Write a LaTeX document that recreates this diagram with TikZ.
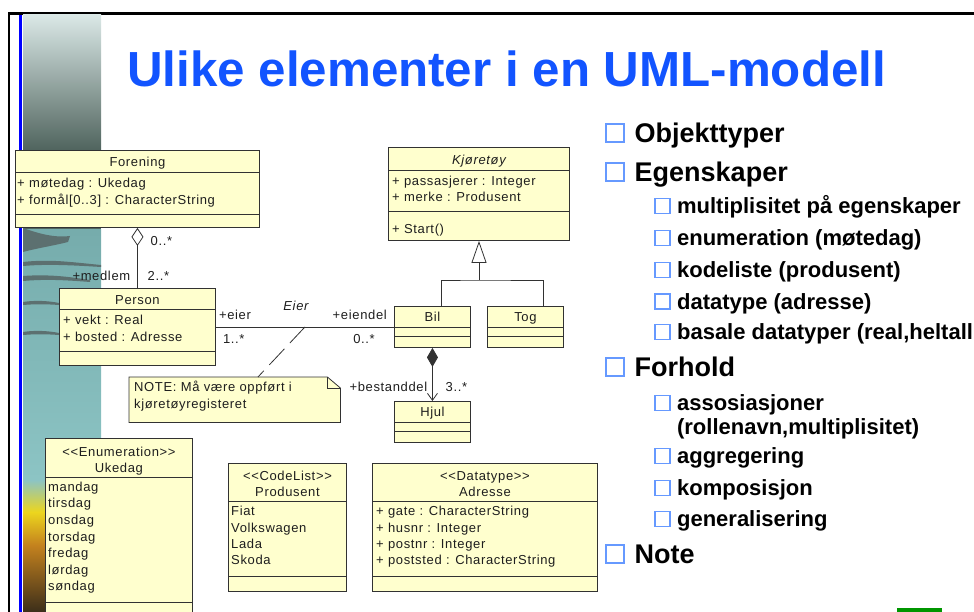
\documentclass[tikz,border=0pt]{standalone}
\usepackage{fontspec}
\setmainfont{Liberation Sans}
\newfontfamily\umlfont[LetterSpace=5]{Liberation Sans}
\usetikzlibrary{positioning,arrows.meta,calc}

\definecolor{umlfill}{RGB}{255,255,206}
\definecolor{umldraw}{RGB}{50,50,50}
\definecolor{umlink}{RGB}{30,30,30}
\definecolor{titleblue}{RGB}{18,84,255}
\definecolor{bulletblue}{RGB}{102,153,255}
\definecolor{slideblue}{RGB}{0,0,255}
\definecolor{slidegreen}{RGB}{0,150,0}
\definecolor{stripA}{RGB}{218,232,230}
\definecolor{stripM}{RGB}{165,190,186}
\definecolor{stripB}{RGB}{80,100,94}
\definecolor{teala}{RGB}{118,172,172}
\definecolor{tealb}{RGB}{140,196,196}
\definecolor{rock}{RGB}{92,112,112}
\definecolor{sand}{RGB}{236,214,30}
\definecolor{amber}{RGB}{196,130,30}
\definecolor{earth}{RGB}{60,46,26}

\tikzset{
  umlbox/.style={draw=umldraw, fill=umlfill, line width=0.9pt, inner sep=0pt, anchor=north west},
  umlrule/.style={draw=umldraw, line width=0.9pt},
  umlline/.style={draw=umldraw, line width=0.8pt},
  umltext/.style={font={\umlfont\fontsize{13}{16}\selectfont}, text=umlink, inner sep=0pt, text height=9.3pt, text depth=0pt},
  umlitalic/.style={umltext, font={\umlfont\fontsize{13}{16}\selectfont\itshape}},
  attr/.style={umltext, anchor=west},
  titletext/.style={font={\fontsize{49.3}{55}\selectfont\bfseries}, text=titleblue, inner sep=0pt, anchor=base west},
  bullet1/.style={draw=bulletblue, line width=2.2pt, minimum size=17.8pt, inner sep=0pt},
  bullet2/.style={draw=bulletblue, line width=1.8pt, minimum size=15pt, inner sep=0pt},
  head/.style={font={\fontsize{27}{30}\selectfont\bfseries}, text=black, inner sep=0pt, text height=19.3pt, text depth=0pt},
  sub/.style={font={\fontsize{22}{24}\selectfont\bfseries}, text=black, inner sep=0pt, text height=15.8pt, text depth=0pt}
}

\begin{document}
\begin{tikzpicture}[x=1pt, y=-1pt]
\useasboundingbox (0,0) rectangle (974,612);
\clip (0,0) rectangle (974,612);

% slide frame and picture strip
\fill[black] (7.5,12.5) rectangle (974,15);
\fill[black] (7.5,12.5) rectangle (10,612);
\fill[slideblue] (19,15) rectangle (22,612);
\shade[top color=stripA, middle color=stripM, bottom color=stripB] (23,15) rectangle (101,150);
\fill[stripB] (23,150) rectangle (101,230);
\shade[top color=teala, bottom color=tealb] (23,230) rectangle (101,480);
\shade[top color=tealb, bottom color=sand] (23,480) rectangle (101,512);
\shade[top color=sand, bottom color=amber] (23,512) rectangle (101,545);
\shade[top color=amber, bottom color=earth] (23,545) rectangle (101,612);
\fill[rock] (23,228) .. controls (40,234) and (55,238) .. (70,236) -- (68,242) .. controls (52,246) and (38,248) .. (23,252) -- cycle;
\fill[rock] (23,262) .. controls (50,259) and (70,262) .. (101,265) -- (101,267) .. controls (70,265) and (45,264) .. (23,266) -- cycle;
\fill[rock] (23,276) .. controls (50,274) and (70,277) .. (90,280) -- (90,282) .. controls (65,280) and (45,279) .. (23,281) -- cycle;
\fill[rock] (23,302) .. controls (35,300) and (50,301) .. (59,303) -- (59,305) .. controls (45,304) and (35,304) .. (23,305) -- cycle;
\fill[rock] (23,332) .. controls (35,330) and (50,331) .. (59,333) -- (59,335) .. controls (45,334) and (35,334) .. (23,335) -- cycle;

% title
\node[titletext] (title) at (127,86.7) {Ulike elementer i en UML-modell};

% classes
\node[umlbox, minimum width=244pt, minimum height=77pt] (forening) at (15,150) {};
\node[umlbox, minimum width=156pt, minimum height=77pt] (person) at (59,288) {};
\node[umlbox, minimum width=181pt, minimum height=93pt] (kjoretoy) at (388,147) {};
\node[umlbox, minimum width=76pt, minimum height=41pt] (bil) at (394,306) {};
\node[umlbox, minimum width=76pt, minimum height=41pt] (tog) at (487,306) {};
\node[umlbox, minimum width=76pt, minimum height=41pt] (hjul) at (394,401) {};
\node[umlbox, minimum width=147pt, minimum height=187pt] (ukedag) at (45,438) {};
\node[umlbox, minimum width=118pt, minimum height=128pt] (produsent) at (228,463) {};
\node[umlbox, minimum width=225pt, minimum height=128pt] (adresse) at (372,463) {};

\foreach \cls/\ya/\yb in {forening/22/64, person/21/63, kjoretoy/23/64, bil/21/30, tog/21/30, hjul/21/30, ukedag/39/164, produsent/38/113, adresse/38/113} {
  \draw[umlrule] ([yshift=-\ya pt]\cls.north west) -- ([yshift=-\ya pt]\cls.north east);
  \draw[umlrule] ([yshift=-\yb pt]\cls.north west) -- ([yshift=-\yb pt]\cls.north east);
}

\node[umltext] (forening-name) at ([yshift=-11.7pt]forening.north) {Forening};
\node[umltext] (person-name) at ([yshift=-11.7pt]person.north) {Person};
\node[umlitalic] (kjoretoy-name) at ([yshift=-12.5pt]kjoretoy.north) {Kjøretøy};
\node[umltext] (bil-name) at ([yshift=-11pt]bil.north) {Bil};
\node[umltext] (tog-name) at ([yshift=-11pt]tog.north) {Tog};
\node[umltext] (hjul-name) at ([yshift=-11pt]hjul.north) {Hjul};
\node[umltext, text height=25.6pt, align=center, anchor=north] (ukedag-name) at ([yshift=-9pt]ukedag.north) {{<}{<}Enumeration{>}{>}\\Ukedag};
\node[umltext, text height=25.6pt, align=center, anchor=north] (produsent-name) at ([yshift=-7.5pt]produsent.north) {{<}{<}CodeList{>}{>}\\Produsent};
\node[umltext, text height=25.6pt, align=center, anchor=north] (adresse-name) at ([yshift=-7.5pt]adresse.north) {{<}{<}Datatype{>}{>}\\Adresse};

\foreach \txt [count=\i from 0] in {{+ møtedag : Ukedag}, {+ formål[0..3] : CharacterString}}
  \node[attr] (forening-attr\i) at ([xshift=2pt, yshift={-(33.3+16.5*\i)*1pt}]forening.north west) {\txt};
\foreach \txt [count=\i from 0] in {{+ vekt : Real}, {+ bosted : Adresse}}
  \node[attr] (person-attr\i) at ([xshift=4pt, yshift={-(32.2+16.5*\i)*1pt}]person.north west) {\txt};
\foreach \txt [count=\i from 0] in {{+ passasjerer : Integer}, {+ merke : Produsent}}
  \node[attr] (kjoretoy-attr\i) at ([xshift=4pt, yshift={-(33.7+16*\i)*1pt}]kjoretoy.north west) {\txt};
\node[attr] (kjoretoy-op) at ([xshift=4pt, yshift=-82.3pt]kjoretoy.north west) {+ Start()};
\foreach \txt [count=\i from 0] in {mandag, tirsdag, onsdag, torsdag, fredag, lørdag, søndag}
  \node[attr] (ukedag-val\i) at ([xshift=3pt, yshift={-(48.7+16.6*\i)*1pt}]ukedag.north west) {\txt};
\foreach \txt [count=\i from 0] in {Fiat, Volkswagen, Lada, Skoda}
  \node[attr] (produsent-val\i) at ([xshift=3pt, yshift={-(48+16.4*\i)*1pt}]produsent.north west) {\txt};
\foreach \txt [count=\i from 0] in {{+ gate : CharacterString}, {+ husnr : Integer}, {+ postnr : Integer}, {+ poststed : CharacterString}}
  \node[attr] (adresse-attr\i) at ([xshift=4pt, yshift={-(48+16.4*\i)*1pt}]adresse.north west) {\txt};

% relations
\draw[umlline, {Diamond[open, length=18pt, width=12pt]}-] (forening.south) -- (person.north);
\node[umltext, below right=8.4pt and 13pt of forening.south] (medlem-min) {0..*};
\node[umltext, above left=7.4pt and 7pt of person.north] (medlem) {+medlem};
\node[umltext, above right=7.4pt and 10pt of person.north] (medlem-mult) {2..*};

\draw[umlline] (person.east) -- (bil.west) coordinate[pos=0.5] (eiermid);
\node[umlitalic] (eier-name) at ([xshift=-9pt, yshift=21.5pt]eiermid) {Eier};
\node[umltext, above right=6.9pt and 3pt of person.east] (eier) {+eier};
\node[umltext, below right=6.9pt and 7pt of person.east] (eier-mult) {1..*};
\node[umltext, above left=6.9pt and 7pt of bil.west] (eiendel) {+eiendel};
\node[umltext, below left=6.9pt and 19pt of bil.west] (eiendel-mult) {0..*};

\coordinate (genjoin) at (479,280);
\draw[umlline] ([xshift=9pt]bil.north) |- (genjoin) -| ([xshift=18pt]tog.north);
\draw[umlline, -{Triangle[open, length=22pt, width=15pt]}] (genjoin) -- (genjoin |- kjoretoy.south);

\draw[umlline, {Diamond[length=19pt, width=11pt]}-{Straight Barb[length=7pt, width=10pt]}] (bil.south) -- (hjul.north);
\node[umltext, above left=9.4pt and 5pt of hjul.north] (bestanddel) {+bestanddel};
\node[umltext, above right=9.4pt and 13pt of hjul.north] (bestanddel-mult) {3..*};

% note
\node[minimum width=211pt, minimum height=45pt, inner sep=0pt, anchor=north west] (note) at (129,377) {};
\draw[umlline, fill=umlfill] (note.north west) -- ([xshift=-13pt]note.north east) -- ([yshift=-11pt]note.north east) -- (note.south east) -- (note.south west) -- cycle;
\draw[umlline] ([xshift=-13pt]note.north east) |- ([yshift=-11pt]note.north east);
\node[attr] (note-line1) at ([xshift=5pt, yshift=-10.3pt]note.north west) {NOTE: Må være oppført i};
\node[attr] (note-line2) at ([xshift=5pt, yshift=-27pt]note.north west) {kjøretøyregisteret};
\draw[umlline, dash pattern=on 22pt off 8pt] (eiermid) -- ($(note.north west)!0.61!(note.north east)$);

% bullet list
\foreach \txt/\y [count=\i] in {Objekttyper/133, Egenskaper/172, Forhold/367, Note/554} {
  \node[bullet1] (head-box\i) at (615,\y) {};
  \node[head, right=9.5pt of head-box\i] (head\i) {\txt};
}
\foreach \txt/\y [count=\i] in {{multiplisitet på egenskaper}/206, {enumeration (møtedag)}/238, {kodeliste (produsent)}/270, {datatype (adresse)}/301.5, {basale datatyper (real,heltall}/332, {assosiasjoner}/403, {aggregering}/456, {komposisjon}/488, {generalisering}/519} {
  \node[bullet2] (sub-box\i) at (662.5,\y) {};
  \node[sub, right=6pt of sub-box\i] (sub\i) {\txt};
}
\node[sub, anchor=west] (sub6b) at ([yshift=-24pt]sub6.west) {(rollenavn,multiplisitet)};

\fill[slidegreen] (897,608) rectangle (942,612);
\end{tikzpicture}
\end{document}
